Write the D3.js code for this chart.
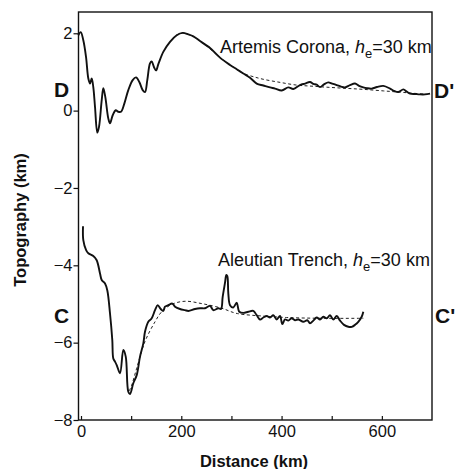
<!DOCTYPE html>
<html>
<head>
<meta charset="utf-8">
<script src="https://cdn.jsdelivr.net/npm/d3@7"></script>
<style>
  html, body { margin: 0; padding: 0; background: #fff; }
  svg { display: block; }
  text { font-family: "Liberation Sans", Arial, Helvetica, sans-serif; fill: #111; }
</style>
</head>
<body>
<svg id="chart" width="457" height="469"></svg>
<script>
// ---- data (distance km, topography km) ----
const artemisProfile = [
  [-5.4,1.95],[-0.6,2.03],[4.6,1.82],[10,1.39],[14.6,0.83],[18,0.70],[21.3,0.83],[24.5,0.61],
  [27.9,0.10],[32.5,-0.57],[35.9,-0.42],[41.3,0.27],[44.5,0.58],[48.5,0.35],[54.4,-0.2],
  [57.8,-0.33],[63.2,-0.12],[69.2,0.01],[74.4,-0.03],[79.8,-0.03],[86.4,0.18],[94.3,0.53],
  [103.1,0.79],[109.7,0.86],[116.3,0.74],[123,0.53],[127.6,0.48],[132.2,0.79],[137.6,1.22],
  [141,1.27],[145.6,1.12],[149.6,1.04],[154.2,1.2],[164.1,1.52],[177.5,1.78],[190.9,1.95],
  [202.8,2.01],[214,1.97],[224,1.92],[237.3,1.8],[250.7,1.68],[257.3,1.62],[277.2,1.37],
  [297.2,1.18],[310.5,1.07],[323.7,0.96],[337,0.85],[350.4,0.70],[363.6,0.65],[377,0.60],
  [387,0.57],[400.3,0.52],[413.4,0.60],[423.4,0.56],[436.8,0.66],[446.8,0.70],[456.7,0.74],
  [463.3,0.69],[470,0.67],[476.7,0.61],[484.6,0.68],[493.2,0.73],[500.6,0.70],[510,0.66],
  [518.5,0.62],[526.5,0.60],[536.5,0.66],[546.5,0.70],[554.4,0.64],[563,0.60],[570.4,0.58],
  [579.8,0.57],[590.3,0.61],[602.9,0.64],[616.3,0.57],[624.3,0.51],[632.8,0.48],[642.8,0.55],
  [649.6,0.49],[656.2,0.44],[666.2,0.43],[676.1,0.42],[686.1,0.42],[696.1,0.44]
];
const artemisModel = [
  [190,1.95],[202.8,2.01],[214,1.97],[224,1.92],[237.3,1.8],[257.3,1.6],[277.2,1.37],
  [297.2,1.18],[310.5,1.07],[323.7,0.96],[343,0.88],[363.6,0.81],[397,0.73],[430,0.66],
  [463,0.63],[497,0.60],[530,0.575],[563,0.55],[603,0.51],[643,0.47],[690,0.42]
];
const aleutianProfile = [
  [4,-2.99],[4.6,-3.35],[10,-3.6],[14.6,-3.69],[24.5,-3.76],[31.3,-3.87],[37.9,-4.21],
  [41.3,-4.38],[47.9,-4.47],[52.5,-4.65],[57.8,-5.24],[62.4,-5.93],[64.4,-6.41],[67.8,-6.49],
  [71.2,-6.58],[77.8,-6.79],[84.4,-6.19],[89.2,-6.36],[94.3,-7.27],[97.7,-7.33],[104.3,-7.05],
  [111.1,-6.84],[117.7,-6.36],[124.3,-6.02],[127.6,-5.72],[134.2,-5.46],[141,-5.37],
  [147.6,-5.16],[153,-5.03],[159,-5.13],[164.1,-5.18],[167.5,-5.07],[174.1,-5.03],
  [182.1,-4.99],[187.5,-5.07],[197.4,-5.13],[207.4,-5.16],[214,-5.18],[227.4,-5.13],
  [237.3,-5.11],[247.3,-5.11],[257.3,-5.05],[263.9,-5.16],[273.8,-5.11],[279.2,-5.13],
  [282.6,-4.81],[287.2,-4.45],[289.8,-4.25],[291.8,-4.28],[293.8,-4.73],[297.2,-5.03],
  [303.7,-5.09],[310.5,-4.97],[315.7,-5.2],[323.7,-5.23],[333.7,-5.2],[343.6,-5.18],
  [350.4,-5.29],[357,-5.4],[363.6,-5.35],[370.4,-5.31],[376.9,-5.35],[383.5,-5.29],
  [390.3,-5.4],[396.9,-5.31],[401.5,-5.52],[406.9,-5.4],[413.4,-5.43],[420.2,-5.37],
  [426.8,-5.42],[433.4,-5.4],[443.4,-5.46],[451.3,-5.42],[456.7,-5.5],[463.3,-5.43],
  [470,-5.35],[476.7,-5.4],[483.3,-5.33],[490,-5.37],[496.6,-5.29],[503.2,-5.4],[510,-5.31],
  [516.6,-5.43],[524.5,-5.54],[533.1,-5.59],[539.9,-5.59],[546.5,-5.54],[553,-5.46],
  [559.8,-5.33],[563,-5.2]
];
const aleutianModel = [
  [96,-7.25],[101.1,-7.1],[111.1,-6.66],[127.6,-5.97],[147.6,-5.46],[161,-5.2],[180.9,-5.01],
  [207.4,-4.93],[240.7,-4.99],[280.6,-5.11],[303.7,-5.22],[317,-5.26],[360,-5.31],
  [410,-5.35],[480.6,-5.37],[563,-5.37]
];
const yTicks = [-8, -6, -4, -2, 0, 2];
const xTicks = [0, 100, 200, 300, 400, 500, 600];
const xTickLabels = [0, 200, 400, 600];
const xTitle = "Distance (km)";
const yTitle = "Topography (km)";

// ---- drawing ----
const svg = d3.select("#chart");
const x = d3.scaleLinear().domain([-5, 700]).range([78.5, 432]);
const y = d3.scaleLinear().domain([-8, 2.55]).range([420, 12]);
const fmt = d => d < 0 ? "\u2212" + Math.abs(d) : String(d);

// left axis (ticks outward)
const gy = svg.append("g").attr("transform", `translate(${x.range()[0]},0)`)
  .call(d3.axisLeft(y).tickValues(yTicks).tickSize(5).tickPadding(1).tickFormat(fmt));
gy.select(".domain").remove();
gy.selectAll("line").attr("stroke", "#111").attr("stroke-width", 1.2);
gy.selectAll("text").style("font-size", "16.5px").attr("font-family", null);

// bottom axis (ticks inward)
const gx = svg.append("g").attr("transform", `translate(0,${y.range()[0]})`)
  .call(d3.axisBottom(x).tickValues(xTicks).tickSize(-4).tickPadding(5)
    .tickFormat(d => xTickLabels.includes(d) ? fmt(d) : ""));
gx.select(".domain").remove();
gx.selectAll("line").attr("stroke", "#111").attr("stroke-width", 1.2);
gx.selectAll("text").style("font-size", "16.5px").attr("font-family", null);

// frame
svg.append("rect")
  .attr("x", x.range()[0]).attr("y", y.range()[1])
  .attr("width", x.range()[1] - x.range()[0]).attr("height", y.range()[0] - y.range()[1])
  .attr("fill", "none").attr("stroke", "#111").attr("stroke-width", 1.4);

const line = d3.line().x(d => x(d[0])).y(d => y(d[1])).curve(d3.curveCatmullRom.alpha(0.5));

// models (dashed)
[artemisModel, aleutianModel].forEach(data => {
  svg.append("path").datum(data).attr("d", line)
    .attr("fill", "none").attr("stroke", "#222").attr("stroke-width", 1)
    .attr("stroke-dasharray", "3,2.5");
});
// observed profiles (solid)
[artemisProfile, aleutianProfile].forEach(data => {
  svg.append("path").datum(data).attr("d", line)
    .attr("fill", "none").attr("stroke", "#111").attr("stroke-width", 1.9)
    .attr("stroke-linejoin", "round");
});

// annotations
function annot(xp, yp, name) {
  const t = svg.append("text").attr("x", xp).attr("y", yp).style("font-size", "18px");
  t.append("tspan").text(name + ", ");
  t.append("tspan").attr("font-style", "italic").text("h");
  t.append("tspan").attr("dy", 5).style("font-size", "13px").text("e");
  t.append("tspan").attr("dy", -5).text("=30 km");
}
annot(220, 53, "Artemis Corona");
annot(218, 266, "Aleutian Trench");

// profile letters
const letters = [["D", 54, 97], ["D'", 434, 98], ["C", 54, 323], ["C'", 435, 323]];
letters.forEach(([s, xp, yp]) => {
  svg.append("text").attr("x", xp).attr("y", yp)
    .style("font-size", "21px").style("font-weight", "bold").text(s);
});

// axis titles
svg.append("text").attr("x", 254).attr("y", 467).attr("text-anchor", "middle")
  .style("font-size", "16.5px").style("font-weight", "bold").text(xTitle);
svg.append("text").attr("transform", "translate(26,220) rotate(-90)").attr("text-anchor", "middle")
  .style("font-size", "16.5px").style("font-weight", "bold").text(yTitle);
</script>
</body>
</html>
